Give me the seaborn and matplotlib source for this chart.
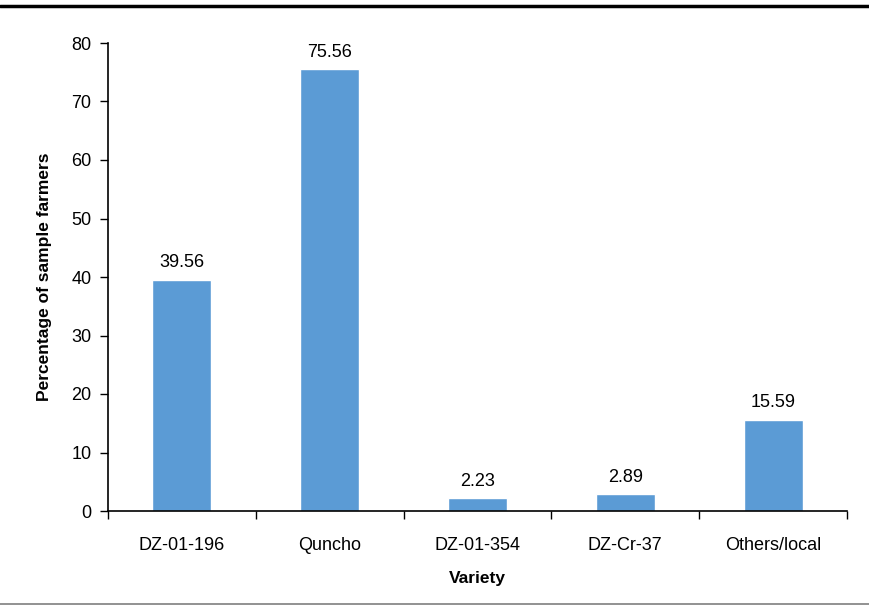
import matplotlib
matplotlib.use("Agg")
import matplotlib.pyplot as plt
from matplotlib.lines import Line2D
import seaborn as sns
import pandas as pd

varieties = ["DZ-01-196", "Quncho", "DZ-01-354", "DZ-Cr-37", "Others/local"]
percentages = [39.56, 75.56, 2.23, 2.89, 15.59]
y_ticks = [0, 10, 20, 30, 40, 50, 60, 70, 80]

sns.set_theme(style="white")
plt.rcParams["font.family"] = ["Liberation Sans Narrow", "Liberation Sans", "DejaVu Sans"]
plt.rcParams["text.color"] = "black"
plt.rcParams["axes.labelcolor"] = "black"
plt.rcParams["xtick.color"] = "black"
plt.rcParams["ytick.color"] = "black"

df = pd.DataFrame({"Variety": varieties, "Percentage": percentages})

fig = plt.figure(figsize=(8.7, 6.07), dpi=100)
ax = fig.add_axes([108 / 870, 1 - 511 / 607, (847 - 108) / 870, (511 - 43) / 607])

sns.barplot(data=df, x="Variety", y="Percentage", color="#5B9BD5",
            width=0.4, saturation=1, ax=ax)

ax.set_ylim(0, 80)
ax.set_xlim(-0.5, len(varieties) - 0.5)
ax.set_yticks(y_ticks)
ax.tick_params(axis="y", labelsize=13, length=6, width=1, direction="out",
               left=True, pad=6)
ax.tick_params(axis="x", labelsize=13, length=0, pad=19)

# category boundary ticks on the x axis
ax.set_xticks([i + 0.5 for i in range(-1, len(varieties))], minor=True)
ax.tick_params(axis="x", which="minor", length=6, width=1, direction="out",
               bottom=True)

for side in ["top", "right"]:
    ax.spines[side].set_visible(False)
for side in ["left", "bottom"]:
    ax.spines[side].set_color("black")
    ax.spines[side].set_linewidth(1.2)

for i, v in enumerate(percentages):
    ax.annotate(f"{v:.2f}", (i, v), xytext=(0, 6), textcoords="offset points",
                ha="center", va="bottom", fontsize=13, color="black")

ax.set_xlabel("Variety", fontsize=12.5, fontweight="bold", labelpad=12)
ax.set_ylabel("Percentage of sample farmers", fontsize=12.5, fontweight="bold", labelpad=14)

# horizontal rules framing the figure
fig.add_artist(Line2D([0, 1], [1 - 6 / 607, 1 - 6 / 607], color="black", linewidth=2.5,
                      transform=fig.transFigure))
fig.add_artist(Line2D([0, 1], [1 - 604 / 607, 1 - 604 / 607], color="#7f7f7f", linewidth=1.2,
                      transform=fig.transFigure))

fig.savefig("out.png", dpi=100)
